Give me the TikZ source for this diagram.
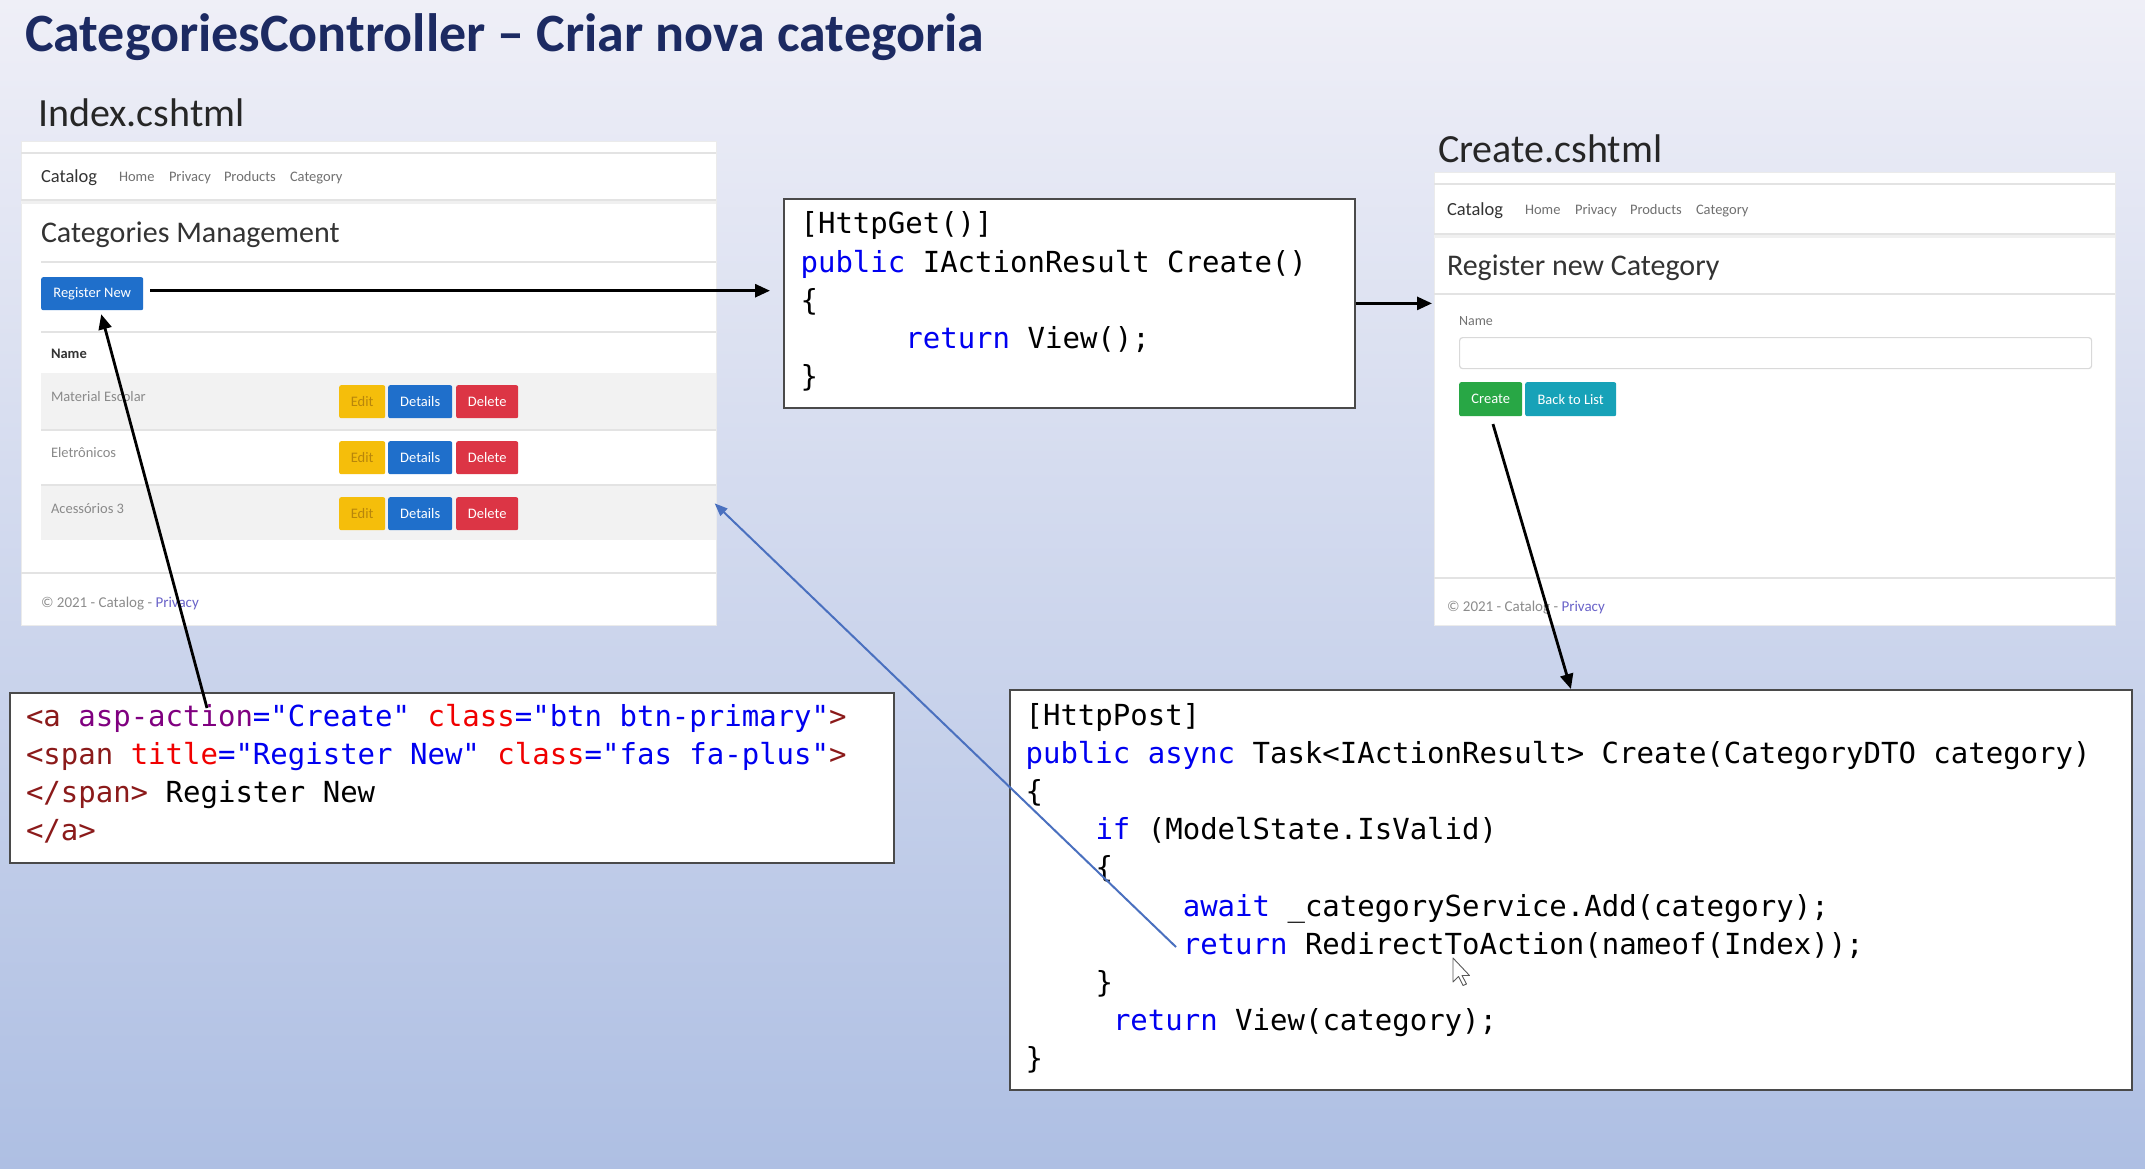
\documentclass[tikz,border=0pt]{standalone}
\usepackage{fontspec}
\setmainfont{Carlito}
\setmonofont{DejaVu Sans Mono}
\usetikzlibrary{arrows.meta}
\definecolor{navy}{HTML}{1C2A62}
\definecolor{kwblue}{HTML}{0000F0}
\definecolor{tagc}{HTML}{8B1A1A}
\definecolor{attc}{HTML}{F00000}
\definecolor{aspc}{HTML}{800080}
\definecolor{valc}{HTML}{0000F0}
\definecolor{bgtop}{HTML}{EFEFF7}
\definecolor{bgbot}{HTML}{AEBFE3}
\definecolor{btnblue}{HTML}{1F6FCB}
\definecolor{btnyel}{HTML}{F5BE0B}
\definecolor{edittext}{HTML}{B8860B}
\definecolor{btnred}{HTML}{DC3545}
\definecolor{btngreen}{HTML}{28A745}
\definecolor{btnteal}{HTML}{17A2B8}
\definecolor{rowgray}{HTML}{F2F2F2}
\definecolor{sepgray}{HTML}{E3E3E3}
\definecolor{navgray}{HTML}{707070}
\definecolor{rowtext}{HTML}{8A8A8A}
\definecolor{linkpurple}{HTML}{6A63C9}
\definecolor{arrowblue}{HTML}{4A70BF}
\definecolor{boxgray}{HTML}{4A4A4A}
\newcommand\kwd[1]{\textcolor{kwblue}{#1}}
\newcommand\htag[1]{\textcolor{tagc}{#1}}
\newcommand\hatt[1]{\textcolor{attc}{#1}}
\newcommand\hasp[1]{\textcolor{aspc}{#1}}
\newcommand\hval[1]{\textcolor{valc}{#1}}
\begin{document}
\begin{tikzpicture}[x=1pt,y=-1pt,
  txt/.style={anchor=base west, inner sep=0pt, outer sep=0pt},
  code/.style={txt, font=\ttfamily\fontsize{29}{34}\selectfont},
  codebox/.style={draw=boxgray, line width=1.8pt, fill=white, inner sep=0pt, anchor=north west},
  panel/.style={fill=white, draw=black!8, line width=0.8pt, inner sep=0pt, anchor=north west},
  ui/.style={txt, font=\fontsize{14.5}{17}\selectfont},
  btn/.style={rounded corners=2pt, inner sep=0pt, anchor=north west, text=white, font=\fontsize{14.5}{17}\selectfont},
  sep/.style={sepgray, line width=1.5pt},
  conn/.style={line width=2.8pt, -{Triangle[length=15pt,width=13pt]}},
  bconn/.style={arrowblue, line width=2pt, -{Triangle[length=13pt,width=10pt]}},
]
\shade[top color=bgtop, bottom color=bgbot] (0,0) rectangle (2145,1169);
\useasboundingbox (0,0) rectangle (2145,1169);

% title and labels
\node[txt, font=\bfseries\fontsize{54}{60}\selectfont, text=navy] (title) at (25,52) {CategoriesController – Criar nova categoria};
\node[txt, font=\fontsize{40}{48}\selectfont, text=black!85] (idxlbl) at (38,127) {Index.cshtml};
\node[txt, font=\fontsize{40}{48}\selectfont, text=black!85] (crtlbl) at (1438,163) {Create.cshtml};

% ---------------- Index panel ----------------
\node[panel, minimum width=695pt, minimum height=484pt] (idx) at (21,141) {};
\draw[sep] (21,153) -- (716,153);
\draw[black!6, line width=4pt] (21,202) -- (716,202);
\draw[sep] (21,200) -- (716,200);
\node[txt, font=\fontsize{18.5}{22}\selectfont, text=black!80] (icat) at (41,183) {Catalog};
\node[ui, text=navgray] (ih) at (119,182) {Home};
\node[ui, text=navgray] (ip) at (169,182) {Privacy};
\node[ui, text=navgray] (ipr) at (224,182) {Products};
\node[ui, text=navgray] (ic) at (290,182) {Category};
\node[txt, font=\fontsize{30}{36}\selectfont, text=black!80] (imgmt) at (41,243) {Categories Management};
\draw[sep] (41,262) -- (716,262);
\node[btn, fill=btnblue, minimum width=102pt, minimum height=33pt] (regbtn) at (41,277) {Register New};
\draw[sep] (41,332) -- (716,332);
\node[txt, font=\bfseries\fontsize{14.5}{17}\selectfont, text=black!80] (iname) at (51,358) {Name};
\fill[rowgray] (41,373) rectangle (716,430);
\fill[rowgray] (41,485) rectangle (716,540);
\draw[sep] (41,430) -- (716,430);
\draw[sep] (41,485) -- (716,485);
\node[ui, text=rowtext] (r1) at (51,401) {Material Escolar};
\node[ui, text=rowtext] (r2) at (51,457) {Eletrônicos};
\node[ui, text=rowtext] (r3) at (51,513) {Acessórios 3};
\foreach \yy/\nn in {385/a,441/b,497/c}{
  \node[btn, fill=btnyel, text=edittext, minimum width=46pt, minimum height=33pt] (edit\nn) at (339,\yy) {Edit};
  \node[btn, fill=btnblue, minimum width=64pt, minimum height=33pt] (det\nn) at (388,\yy) {Details};
  \node[btn, fill=btnred, minimum width=62pt, minimum height=33pt] (del\nn) at (456,\yy) {Delete};
}
\draw[sep] (21,573) -- (716,573);
\node[ui, font=\fontsize{15}{18}\selectfont, text=black!45] (ifoot) at (41,607) {© 2021 - Catalog - \textcolor{linkpurple}{Privacy}};

% ---------------- Create panel ----------------
\node[panel, minimum width=681pt, minimum height=453pt] (crt) at (1434,172) {};
\draw[sep] (1434,184) -- (2115,184);
\draw[black!6, line width=4pt] (1434,236) -- (2115,236);
\draw[sep] (1434,234) -- (2115,234);
\node[txt, font=\fontsize{18.5}{22}\selectfont, text=black!80] (ccat) at (1447,216) {Catalog};
\node[ui, text=navgray] (ch) at (1525,215) {Home};
\node[ui, text=navgray] (cp) at (1575,215) {Privacy};
\node[ui, text=navgray] (cpr) at (1630,215) {Products};
\node[ui, text=navgray] (cc) at (1696,215) {Category};
\node[txt, font=\fontsize{30}{36}\selectfont, text=black!80] (creg) at (1447,276) {Register new Category};
\draw[sep] (1434,294) -- (2115,294);
\node[ui, font=\fontsize{14}{17}\selectfont, text=black!55] (cname) at (1459,325) {Name};
\node[draw=black!15, line width=1.2pt, rounded corners=3pt, fill=white, anchor=north west, minimum width=632pt, minimum height=31pt, inner sep=0pt] (cinput) at (1459,337) {};
\node[btn, fill=btngreen, minimum width=63pt, minimum height=34pt] (cbtn) at (1459,382) {Create};
\node[btn, fill=btnteal, minimum width=91pt, minimum height=34pt] (bbtn) at (1525,382) {Back to List};
\draw[sep] (1434,578) -- (2115,578);
\node[ui, font=\fontsize{15}{18}\selectfont, text=black!45] (cfoot) at (1447,611) {© 2021 - Catalog - \textcolor{linkpurple}{Privacy}};

% ---------------- HttpGet box ----------------
\node[codebox, minimum width=571pt, minimum height=209pt] (get) at (783,198) {};
\node[code] (g1) at (800.6,234) {[HttpGet()]};
\node[code] (g2) at (800.6,272.2) {\kwd{public} IActionResult Create()};
\node[code] (g3) at (800.6,310.4) {\{};
\node[code] (g4) at (905.4,348.6) {\kwd{return} View();};
\node[code] (g5) at (800.6,386.8) {\}};

% ---------------- HTML box ----------------
\node[codebox, minimum width=884pt, minimum height=170pt] (html) at (9,692) {};
\node[code] (h1) at (26,726) {\htag{<a} \hasp{asp-action}\hval{="Create"} \hatt{class}\hval{="btn btn-primary"}\htag{>}};
\node[code] (h2) at (26,764) {\htag{<span} \hatt{title}\hval{="Register New"} \hatt{class}\hval{="fas fa-plus"}\htag{>}};
\node[code] (h3) at (26,802) {\htag{</span>} Register New};
\node[code] (h4) at (26,840) {\htag{</a>}};

% ---------------- HttpPost box ----------------
\node[codebox, minimum width=1122pt, minimum height=400pt] (post) at (1009,689) {};
\node[code] (p1) at (1025.6,725) {[HttpPost]};
\node[code] (p2) at (1025.6,763.2) {\kwd{public} \kwd{async} Task<IActionResult> Create(CategoryDTO category)};
\node[code] (p3) at (1025.6,801.4) {\{};
\node[code] (p4) at (1095.5,839.6) {\kwd{if} (ModelState.IsValid)};
\node[code] (p5) at (1095.5,877.8) {\{};
\node[code] (p6) at (1182.8,916) {\kwd{await} \_categoryService.Add(category);};
\node[code] (p7) at (1182.8,954.2) {\kwd{return} RedirectToAction(nameof(Index));};
\node[code] (p8) at (1095.5,992.4) {\}};
\node[code] (p9) at (1113,1030.6) {\kwd{return} View(category);};
\node[code] (p10) at (1025.6,1068.8) {\}};

% mouse cursor
\draw[fill=white, draw=black!65, line width=0.9pt, line join=round]
  (1453,958) -- ++(0,24) -- ++(5.5,-5.5) -- ++(4.5,9) -- ++(3.5,-1.5) -- ++(-4.5,-8.5) -- ++(7.5,0) -- cycle;

% ---------------- connectors ----------------
\coordinate (a4s) at (207,708);
\coordinate (redir) at (1176,947);
\draw[conn, shorten <=7pt, shorten >=13pt] ([yshift=3pt]regbtn.east) -- ([yshift=3pt]regbtn.east -| get.west);
\draw[conn, shorten >=2pt] (get.east) -- (get.east -| crt.west);
\draw[conn, shorten <=8pt] (cbtn.south) -- (post.north);
\draw[conn, shorten >=4pt] (a4s) -- ([xshift=8pt]regbtn.south);
\draw[bconn, shorten >=-3pt] (redir) -- ([yshift=-122pt]idx.east);
\end{tikzpicture}
\end{document}
